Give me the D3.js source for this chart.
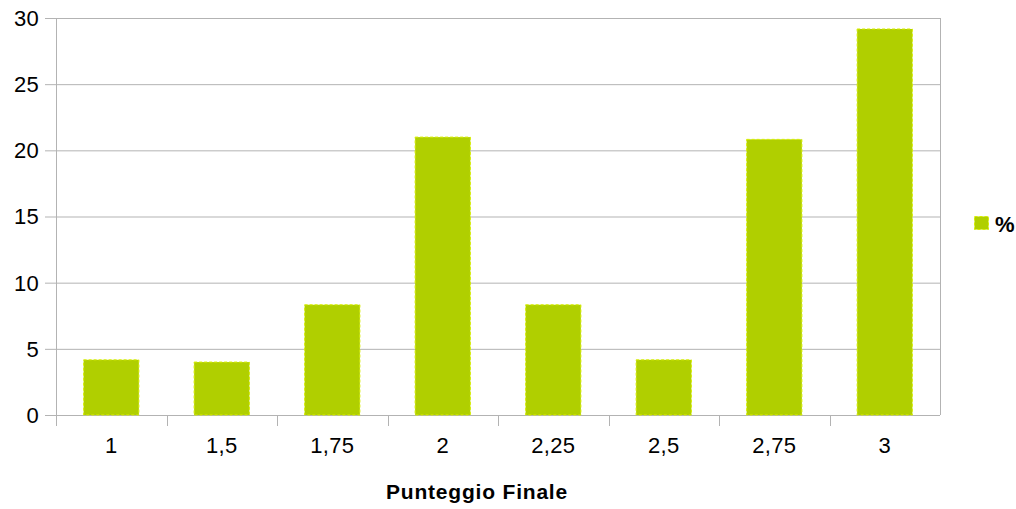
<!DOCTYPE html>
<html><head><meta charset="utf-8">
<script src="https://cdn.jsdelivr.net/npm/d3@7"></script>
<style>body{margin:0;background:#fff}svg{display:block}text{font-family:"Liberation Sans",Arial,sans-serif;fill:#000}</style>
</head><body><svg id="c" width="1016" height="509"></svg>
<script>
const categories = ["1","1,5","1,75","2","2,25","2,5","2,75","3"];
const values = [4.17, 4.0, 8.33, 21.0, 8.33, 4.17, 20.83, 29.17];
const yTicks = [0,5,10,15,20,25,30];
const seriesName = "%";
const xTitle = "Punteggio Finale";

const svg = d3.select("#c");
const L=56, R=940, T=18, B=415;
const x = d3.scaleBand().domain(categories).range([L,R]).paddingInner(0.5).paddingOuter(0.25);
const y = d3.scaleLinear().domain([0,30]).range([B,T]);

// gridlines
svg.append("g").selectAll("line").data(yTicks).join("line")
  .attr("x1",L-11).attr("x2",R).attr("y1",d=>y(d)+0.5).attr("y2",d=>y(d)+0.5)
  .attr("stroke","#b3b3b3").attr("stroke-width",1);
// right border
svg.append("line").attr("x1",R+0.5).attr("x2",R+0.5).attr("y1",T).attr("y2",B).attr("stroke","#b3b3b3");
// left axis
svg.append("line").attr("x1",L+0.5).attr("x2",L+0.5).attr("y1",T).attr("y2",B+11).attr("stroke","#b3b3b3");
// x ticks between categories
const step = (R-L)/categories.length;
svg.append("g").selectAll("line").data(d3.range(1,categories.length)).join("line")
  .attr("x1",i=>Math.round(L+i*step)+0.5).attr("x2",i=>Math.round(L+i*step)+0.5)
  .attr("y1",B).attr("y2",B+11).attr("stroke","#b3b3b3");

// bars
svg.append("g").selectAll("rect").data(values).join("rect")
  .attr("x",(d,i)=>x(categories[i])).attr("width",x.bandwidth())
  .attr("y",d=>y(d)).attr("height",d=>B-y(d))
  .attr("fill","#b0cf00").attr("stroke","#d7ef00").attr("stroke-width",1).attr("stroke-dasharray","3,2");

// y labels
svg.append("g").selectAll("text").data(yTicks).join("text")
  .attr("x",39).attr("y",d=>y(d)).attr("dy","0.36em").attr("text-anchor","end")
  .attr("font-size",22).attr("letter-spacing","0.3px").text(d=>d);
// x labels
svg.append("g").selectAll("text").data(categories).join("text")
  .attr("x",d=>x(d)+x.bandwidth()/2).attr("y",453).attr("text-anchor","middle")
  .attr("font-size",22).attr("letter-spacing","0.3px").text(d=>d);
// x title
svg.append("text").attr("x",477).attr("y",499).attr("text-anchor","middle")
  .attr("font-size",21).attr("font-weight","bold").attr("letter-spacing","0.8px").text(xTitle);
// legend
svg.append("rect").attr("x",974.5).attr("y",216.5).attr("width",14).attr("height",13)
  .attr("fill","#b0cf00").attr("stroke","#d7ef00").attr("stroke-dasharray","3,2");
svg.append("text").attr("x",995).attr("y",232).attr("font-size",22).attr("font-weight","bold").text(seriesName);
</script></body></html>
